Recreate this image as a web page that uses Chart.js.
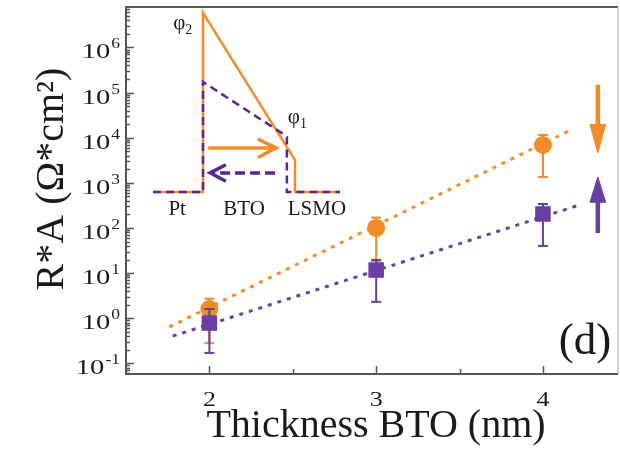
<!DOCTYPE html>
<html>
<head>
<meta charset="utf-8">
<script src="https://cdn.jsdelivr.net/npm/chart.js@4.4.1/dist/chart.umd.min.js"></script>
<style>
    html, body { margin: 0; padding: 0; background: #fff; }
</style>
</head>
<body>
<canvas id="grafico" width="620" height="457"></canvas>
<script>
// Valores (R*A em Ohm*cm2)
const espessuras = [2, 3, 4];
const raLaranja = [1.6, 100, 6900];
const raLaranjaMin = [0.28, 18.6, 1350];
const raLaranjaMax = [2.7, 170, 11500];
const raRoxo = [0.78, 11.7, 204];
const raRoxoMin = [0.17, 2.3, 40];
const raRoxoMax = [1.6, 19.6, 340];

// Retas de ajuste (extremos)
const ajusteLaranjaX = [1.76, 4.18];
const ajusteLaranjaY = [0.64, 15700];
const ajusteRoxoX = [1.78, 4.2];
const ajusteRoxoY = [0.40, 307];

// Ticks
const ticksX = [2, 2.5, 3, 3.5, 4];
const rotulosX = ['2', '', '3', '', '4'];
const expoentesY = [-1, 0, 1, 2, 3, 4, 5, 6];

// Esquema de bandas e setas (unidades 0-100 sobre a area do grafico)
const barreiraLaranja = [[5.5, 49.6], [15.65, 49.6], [15.65, 98.4], [34.35, 58.3], [34.35, 49.6], [43.5, 49.6]];
const barreiraRoxa = [[5.5, 49.6], [15.65, 49.6], [15.65, 79.6], [32.3, 65.1], [32.7, 64.6], [32.7, 49.6], [43.5, 49.6]];
const setaInsetLaranja = [[16.7, 61.6], [30.2, 61.6], null, [26.8, 64.0], [30.5, 61.6], [26.8, 59.0]];
const setaInsetRoxaHaste = [[30.3, 54.8], [17.6, 54.8]];
const setaInsetRoxaPonta = [[20.3, 57.0], [17.1, 54.8], [20.3, 52.5]];
const setaBaixoHaste = [[95.9, 78.8], [95.9, 66.5]];
const setaBaixoPonta = [[94.3, 68.0], [95.9, 60.2], [97.5, 68.0], [94.3, 68.0]];
const setaCimaHaste = [[95.9, 38.4], [95.9, 47.4]];
const setaCimaPonta = [[94.3, 46.8], [95.9, 53.7], [97.5, 46.8], [94.3, 46.8]];

const rotulosInset = [
    { texto: 'Pt', x: 10.4, y: 43.3 },
    { texto: 'BTO', x: 24.0, y: 43.3 },
    { texto: 'LSMO', x: 38.8, y: 43.3 }
];
const rotulosPhi = [
    { sub: '2', x: 9.6, y: 94.0 },
    { sub: '1', x: 32.9, y: 68.4 }
];

const LARANJA = '#f58b25';
const ROXO = '#6a3fa3';
const ROXO_ESCURO = '#5a2596';
const TEXTO = '#1a1a1a';
const FONTE = '"Liberation Serif", "Times New Roman", serif';

function paraXY(lista) {
    return lista.map(p => p ? { x: p[0], y: p[1] } : { x: null, y: null });
}

function barrasErro(minimos, maximos) {
    const pts = [];
    espessuras.forEach((x, i) => {
        pts.push({ x: x, y: minimos[i] }, { x: x, y: maximos[i] }, { x: null, y: null });
    });
    return pts;
}

function esquema(pontos, cor, extra) {
    return Object.assign({
        type: 'scatter',
        data: paraXY(pontos),
        xAxisID: 'xEsq',
        yAxisID: 'yEsq',
        showLine: true,
        borderColor: cor,
        backgroundColor: cor,
        borderWidth: 2.5,
        pointRadius: 0,
        fill: false,
        order: 1
    }, extra || {});
}

const desenhoExtra = {
    id: 'desenhoExtra',
    afterDatasetsDraw(chart) {
        const ctx = chart.ctx;
        const area = chart.chartArea;
        const sx = chart.scales.x;
        const sy = chart.scales.y;
        ctx.save();
        // moldura
        ctx.strokeStyle = '#555';
        ctx.lineWidth = 2;
        ctx.beginPath();
        ctx.moveTo(area.right, area.top);
        ctx.lineTo(area.left, area.top);
        ctx.lineTo(area.left, area.bottom);
        ctx.lineTo(area.right, area.bottom);
        ctx.stroke();
        ctx.strokeStyle = '#aaa';
        ctx.lineWidth = 1;
        ctx.beginPath();
        ctx.moveTo(area.right, area.top);
        ctx.lineTo(area.right, area.bottom);
        ctx.stroke();

        // ticks para dentro
        ctx.strokeStyle = '#555';
        ctx.lineWidth = 1.5;
        ctx.beginPath();
        for (let e = -2; e <= 7; e++) {
            for (let m = 1; m <= 9; m++) {
                const v = m * Math.pow(10, e);
                if (v < sy.min || v > sy.max) continue;
                const py = Math.round(sy.getPixelForValue(v)) + 0.5;
                const len = m === 1 ? 8 : 4;
                ctx.moveTo(area.left, py);
                ctx.lineTo(area.left + len, py);
            }
        }
        ticksX.forEach((t, i) => {
            const px = Math.round(sx.getPixelForValue(t)) + 0.5;
            const len = rotulosX[i] ? 8 : 5;
            ctx.moveTo(px, area.bottom);
            ctx.lineTo(px, area.bottom - len);
        });
        ctx.stroke();
        ctx.restore();
    },
    afterDraw(chart) {
        const ctx = chart.ctx;
        const area = chart.chartArea;
        const sx = chart.scales.x;
        const sy = chart.scales.y;
        const ex = chart.scales.xEsq;
        const ey = chart.scales.yEsq;
        ctx.save();
        ctx.fillStyle = TEXTO;
        ctx.textBaseline = 'alphabetic';

        // rotulos do eixo y: 10^n
        expoentesY.forEach(e => {
            const py = sy.getPixelForValue(Math.pow(10, e));
            const sup = e < 0 ? '-' + (-e) : String(e);
            ctx.font = '14px ' + FONTE;
            const supW = ctx.measureText(sup).width * 1.25;
            const direita = area.left - 6;
            ctx.save();
            ctx.translate(direita, py + 1);
            ctx.scale(1.25, 1);
            ctx.textAlign = 'right';
            ctx.fillText(sup, 0, 0);
            ctx.restore();
            ctx.font = '22px ' + FONTE;
            ctx.save();
            ctx.translate(direita - supW - 1, py + 11);
            ctx.scale(1.3, 1);
            ctx.textAlign = 'right';
            ctx.fillText('10', 0, 0);
            ctx.restore();
        });

        // rotulos do eixo x
        ctx.font = '20px ' + FONTE;
        ticksX.forEach((t, i) => {
            if (!rotulosX[i]) return;
            ctx.save();
            ctx.translate(sx.getPixelForValue(t), area.bottom + 32);
            ctx.scale(1.3, 1);
            ctx.textAlign = 'center';
            ctx.fillText(rotulosX[i], 0, 0);
            ctx.restore();
        });

        // titulos dos eixos
        ctx.font = '40px ' + FONTE;
        ctx.textAlign = 'center';
        ctx.fillText('Thickness BTO (nm)', 376, 437);
        ctx.save();
        ctx.translate(63, 179);
        ctx.rotate(-Math.PI / 2);
        ctx.fillText('R*A (\u03A9*cm\u00B2)', 0, 0);
        ctx.restore();

        // textos do esquema
        ctx.font = '21px ' + FONTE;
        ctx.textAlign = 'center';
        rotulosInset.forEach(r => {
            ctx.fillText(r.texto, ex.getPixelForValue(r.x), ey.getPixelForValue(r.y));
        });
        ctx.textAlign = 'left';
        rotulosPhi.forEach(r => {
            const px = ex.getPixelForValue(r.x);
            const py = ey.getPixelForValue(r.y);
            ctx.font = '21px ' + FONTE;
            ctx.fillText('\u03C6', px, py);
            const w = ctx.measureText('\u03C6').width;
            ctx.font = '14px ' + FONTE;
            ctx.fillText(r.sub, px + w, py + 5);
        });

        // (d)
        ctx.font = '45px ' + FONTE;
        ctx.textAlign = 'right';
        ctx.fillText('(d)', ex.getPixelForValue(98.6), ey.getPixelForValue(5.4));
        ctx.restore();
    }
};

const ctx = document.getElementById('grafico').getContext('2d');
const grafico = new Chart(ctx, {
    data: {
        datasets: [
            {
                type: 'scatter',
                data: ajusteLaranjaX.map((x, i) => ({ x: x, y: ajusteLaranjaY[i] })),
                showLine: true,
                borderColor: LARANJA,
                borderWidth: 3,
                borderDash: [4, 6],
                pointRadius: 0,
                order: 10
            },
            {
                type: 'scatter',
                data: ajusteRoxoX.map((x, i) => ({ x: x, y: ajusteRoxoY[i] })),
                showLine: true,
                borderColor: ROXO,
                borderWidth: 3,
                borderDash: [4, 6],
                pointRadius: 0,
                order: 9
            },
            {
                type: 'scatter',
                data: barrasErro(raLaranjaMin, raLaranjaMax),
                showLine: true,
                borderColor: LARANJA,
                borderWidth: 2,
                pointStyle: 'line',
                pointRadius: 5,
                pointBorderWidth: 2,
                pointBorderColor: LARANJA,
                order: 6
            },
            {
                type: 'scatter',
                data: espessuras.map((x, i) => ({ x: x, y: raLaranja[i] })),
                pointStyle: 'circle',
                pointRadius: 9,
                borderWidth: 0,
                backgroundColor: LARANJA,
                order: 5
            },
            {
                type: 'scatter',
                data: espessuras.map((x, i) => ({ x: x, y: raRoxo[i] })),
                pointStyle: 'rect',
                pointRadius: 11,
                borderWidth: 0,
                backgroundColor: ROXO,
                order: 4
            },
            {
                type: 'scatter',
                data: barrasErro(raRoxoMin, raRoxoMax),
                showLine: true,
                borderColor: ROXO,
                borderWidth: 2,
                pointStyle: 'line',
                pointRadius: 5,
                pointBorderWidth: 2,
                pointBorderColor: ROXO,
                order: 3
            },
            // esquema de bandas
            esquema(barreiraLaranja, LARANJA, { borderWidth: 2.5, order: 2 }),
            esquema(barreiraRoxa, ROXO_ESCURO, { borderWidth: 2.5, borderDash: [8, 5] }),
            esquema(setaInsetLaranja, LARANJA, { borderWidth: 3.5 }),
            esquema(setaInsetRoxaHaste, ROXO_ESCURO, { borderWidth: 3.5, borderDash: [10, 5] }),
            esquema(setaInsetRoxaPonta, ROXO_ESCURO, { borderWidth: 3.5 }),
            // setas da direita
            esquema(setaBaixoHaste, LARANJA, { borderWidth: 4.5 }),
            esquema(setaBaixoPonta, LARANJA, { borderWidth: 1, fill: 'shape' }),
            esquema(setaCimaHaste, ROXO, { borderWidth: 4.5 }),
            esquema(setaCimaPonta, ROXO, { borderWidth: 1, fill: 'shape' })
        ]
    },
    options: {
        responsive: false,
        animation: false,
        layout: { autoPadding: false, padding: { top: 7, right: 2, left: 0, bottom: 0 } },
        plugins: {
            legend: { display: false },
            tooltip: { enabled: false }
        },
        scales: {
            x: {
                type: 'linear',
                min: 1.5,
                max: 4.45,
                grid: { display: false },
                border: { display: false },
                ticks: { display: false },
                afterFit: s => { s.height = 83; }
            },
            y: {
                type: 'logarithmic',
                min: 0.058,
                max: 7.9e6,
                grid: { display: false },
                border: { display: false },
                ticks: { display: false },
                afterFit: s => { s.width = 126; }
            },
            xEsq: { type: 'linear', min: 0, max: 100, display: false },
            yEsq: { type: 'linear', min: 0, max: 100, display: false }
        }
    },
    plugins: [desenhoExtra]
});
</script>
</body>
</html>
